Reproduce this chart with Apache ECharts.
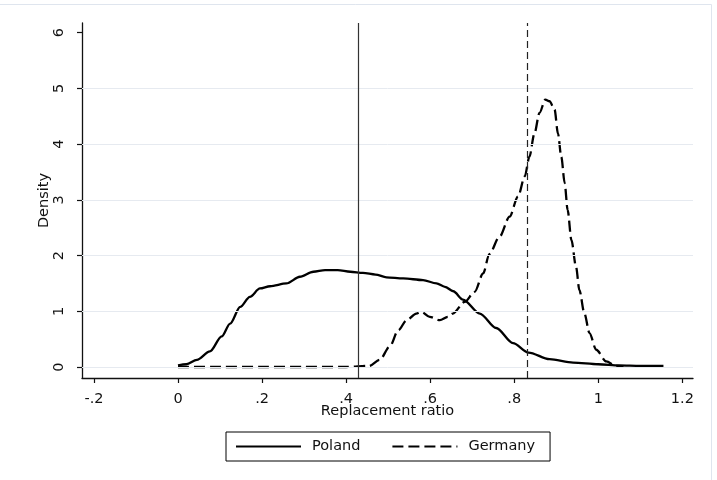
<!DOCTYPE html>
<html>
<head>
<meta charset="utf-8">
<script src="https://cdn.jsdelivr.net/npm/echarts@6/dist/echarts.min.js"></script>
<style>html,body{margin:0;padding:0;background:#fff;}#c{width:717px;height:480px;}</style>
</head>
<body>
<div id="c"></div>
<script>
// ---- data ----
const polandX = [0, 0.02, 0.045, 0.076, 0.104, 0.124, 0.148, 0.171, 0.195, 0.219, 0.258, 0.29, 0.322, 0.35, 0.38, 0.41, 0.44, 0.47, 0.496, 0.536, 0.583, 0.615, 0.635, 0.655, 0.678, 0.718, 0.757, 0.797, 0.834, 0.884, 0.94, 1.0, 1.05, 1.1, 1.155];
const polandY = [0.03, 0.05, 0.13, 0.28, 0.55, 0.78, 1.08, 1.26, 1.41, 1.45, 1.50, 1.62, 1.71, 1.74, 1.74, 1.71, 1.69, 1.66, 1.61, 1.59, 1.56, 1.50, 1.44, 1.36, 1.21, 0.96, 0.70, 0.43, 0.26, 0.14, 0.08, 0.05, 0.03, 0.02, 0.02];
const germanyX = [0, 0.1, 0.2, 0.3, 0.4, 0.455, 0.48, 0.504, 0.524, 0.544, 0.567, 0.579, 0.599, 0.623, 0.642, 0.654, 0.682, 0.706, 0.726, 0.741, 0.765, 0.789, 0.809, 0.825, 0.836, 0.848, 0.86, 0.874, 0.884, 0.896, 0.904, 0.912, 0.92, 0.927, 0.936, 0.947, 0.955, 0.967, 0.979, 0.995, 1.019, 1.042, 1.06];
const germanyY = [0, 0, 0, 0, 0, 0.02, 0.13, 0.37, 0.66, 0.84, 0.96, 0.99, 0.90, 0.84, 0.90, 0.96, 1.17, 1.35, 1.68, 2.03, 2.34, 2.70, 3.06, 3.42, 3.77, 4.19, 4.56, 4.80, 4.77, 4.62, 4.19, 3.77, 3.30, 2.82, 2.28, 1.80, 1.38, 0.96, 0.61, 0.31, 0.10, 0.02, 0.01];
const refLines = [0.435, 0.835];           // Poland mean, Germany mean
const xTickValues = [-0.2, 0, 0.2, 0.4, 0.6, 0.8, 1, 1.2];
const xTickLabels = ['-.2', '0', '.2', '.4', '.6', '.8', '1', '1.2'];
const yTickValues = [0, 1, 2, 3, 4, 5, 6];
const yTickLabels = ['0', '1', '2', '3', '4', '5', '6'];
const gridValues = [0, 1, 2, 3, 4, 5];
const seriesNames = ['Poland', 'Germany'];
const xTitle = 'Replacement ratio';
const yTitle = 'Density';

// ---- chart ----
const FONT = 'DejaVu Sans';
const FS = 14.5;
const pair = (xs, ys) => xs.map((x, i) => [x, ys[i]]);
const lookup = (vals, labs) => v => {
  let best = 0;
  for (let i = 1; i < vals.length; i++) if (Math.abs(vals[i] - v) < Math.abs(vals[best] - v)) best = i;
  return labs[best];
};

const chart = echarts.init(document.getElementById('c'), null, {renderer: 'canvas'});
chart.setOption({
  animation: false,
  backgroundColor: '#ffffff',
  graphic: [{
    type: 'rect', silent: true, z: -10,
    shape: {x: -2, y: 4.5, width: 713.5, height: 490},
    style: {fill: 'none', stroke: '#dfe5ee', lineWidth: 1}
  }],
  grid: {left: 82, right: 24, top: 23, bottom: 102, containLabel: false},
  legend: {
    data: seriesNames,
    left: 226, top: 432,
    itemWidth: 65, itemHeight: 14, itemGap: 31,
    padding: [7, 15, 7, 9],
    borderColor: '#000', borderWidth: 1,
    itemStyle: {opacity: 0, borderWidth: 0},
    textStyle: {fontFamily: FONT, fontSize: FS, color: '#111', padding: [0, 0, 0, 6]}
  },
  xAxis: {
    type: 'value', min: -0.2284, max: 1.2253,
    name: xTitle, nameLocation: 'middle', nameGap: 26, nameMoveOverlap: false,
    nameTextStyle: {fontFamily: FONT, fontSize: FS, color: '#111'},
    axisLine: {show: true, onZero: false, lineStyle: {color: '#111', width: 1.3}},
    axisTick: {show: true, length: 5, lineStyle: {color: '#111', width: 1.2}, customValues: xTickValues},
    axisLabel: {fontFamily: FONT, fontSize: FS, color: '#111', margin: 14, customValues: xTickValues,
      formatter: lookup(xTickValues, xTickLabels)},
    splitLine: {show: false}
  },
  yAxis: {
    type: 'value', min: -0.197, max: 6.174,
    name: yTitle, nameLocation: 'middle', nameGap: 30, nameMoveOverlap: false,
    nameTextStyle: {fontFamily: FONT, fontSize: FS, color: '#111'},
    axisLine: {show: true, onZero: false, lineStyle: {color: '#111', width: 1.3}},
    axisTick: {show: true, length: 5, lineStyle: {color: '#111', width: 1.2}, customValues: yTickValues},
    axisLabel: {fontFamily: FONT, fontSize: FS, color: '#111', margin: 15, rotate: 90, customValues: yTickValues,
      formatter: lookup(yTickValues, yTickLabels)},
    splitLine: {show: false}
  },
  series: [
    {
      name: 'gridlines', type: 'line', data: [], silent: true, z: 1,
      markLine: {
        silent: true, symbol: ['none', 'none'], label: {show: false},
        lineStyle: {color: '#e6eaf0', width: 1, type: 'solid'},
        emphasis: {disabled: true},
        data: gridValues.map(v => ({yAxis: v}))
      }
    },
    {
      name: 'refs', type: 'line', data: [], silent: true, z: 2,
      markLine: {
        silent: true, symbol: ['none', 'none'], label: {show: false},
        emphasis: {disabled: true},
        data: [
          {xAxis: refLines[0], lineStyle: {color: '#333', width: 1.2, type: 'solid'}},
          {xAxis: refLines[1], lineStyle: {color: '#222', width: 1.2, type: [7, 4]}}
        ]
      }
    },
    {
      name: seriesNames[0], type: 'line', z: 3,
      data: pair(polandX, polandY),
      showSymbol: false, symbol: 'none',
      smooth: 0.3, smoothMonotone: 'x',
      lineStyle: {color: '#000', width: 2.3, type: 'solid'},
      itemStyle: {color: '#000'}
    },
    {
      name: seriesNames[1], type: 'line', z: 3,
      data: pair(germanyX, germanyY),
      showSymbol: false, symbol: 'none',
      smooth: 0.3, smoothMonotone: 'x',
      lineStyle: {color: '#000', width: 2.3, type: [11, 5]},
      itemStyle: {color: '#000'}
    }
  ]
});
</script>
</body>
</html>
